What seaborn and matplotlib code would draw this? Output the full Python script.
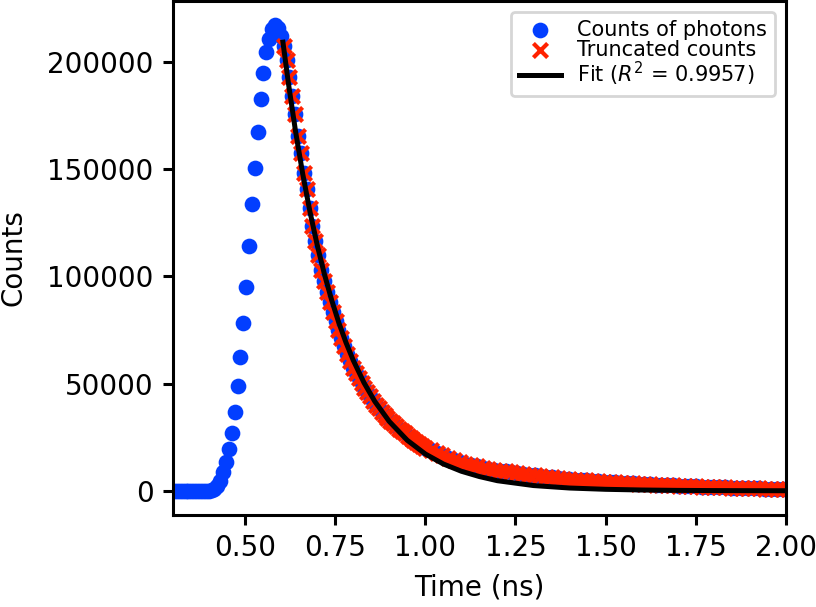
import pandas as pd
import seaborn as sns
import matplotlib.pyplot as plt

# Rising edge and peak of the histogram (time in ns, 8 ps bins)
time_rise = [0.295, 0.303, 0.311, 0.319, 0.327, 0.335, 0.343, 0.351, 0.359, 0.367,
             0.375, 0.383, 0.391, 0.399, 0.407, 0.415, 0.423, 0.431, 0.439, 0.447,
             0.455, 0.463, 0.471, 0.479, 0.487, 0.495, 0.503, 0.511, 0.519, 0.527,
             0.535, 0.543, 0.551, 0.559, 0.567, 0.575, 0.583, 0.591, 0.599]
counts_rise = [40, 30, 50, 40, 60, 50, 70, 80, 100, 120,
               150, 190, 260, 380, 600, 1100, 2400, 5000, 9000, 13900,
               19600, 27300, 36800, 49000, 62400, 78200, 95200, 114100, 133600, 150600,
               167200, 182700, 194600, 204300, 210600, 215300, 217200, 215800, 212100]

# Decay used for the fit (truncated counts), fine part
time_decay = [0.607, 0.615, 0.623, 0.631, 0.639, 0.647, 0.655, 0.663, 0.671, 0.679,
              0.687, 0.695, 0.703, 0.711, 0.719, 0.727, 0.735, 0.743, 0.751, 0.759,
              0.767, 0.775, 0.783, 0.791, 0.799, 0.807, 0.815, 0.823, 0.831, 0.839,
              0.847, 0.855, 0.863, 0.871, 0.879, 0.887, 0.895, 0.903, 0.911, 0.919,
              0.927, 0.935, 0.943, 0.951, 0.959, 0.967, 0.975, 0.983, 0.991, 0.999]
counts_decay = [207000, 200500, 193000, 183800, 175400, 165200, 157400, 148100, 140700, 132000,
                123400, 116500, 109900, 103200, 97880, 92830, 88040, 83500, 79190, 75100,
                71230, 67550, 64070, 60760, 57630, 55130, 52750, 50460, 48280, 46190,
                44190, 42270, 40440, 38690, 37180, 35720, 34320, 32980, 31680, 30440,
                29250, 28100, 27000, 25940, 24920, 23950, 23010, 22100, 21240, 20410]

# Long tail
time_tail = [1.015, 1.031, 1.047, 1.063, 1.079, 1.095, 1.111, 1.127, 1.143, 1.159,
             1.175, 1.191, 1.207, 1.223, 1.239, 1.255, 1.271, 1.287, 1.303, 1.319,
             1.335, 1.351, 1.367, 1.383, 1.399, 1.415, 1.431, 1.447, 1.463, 1.479,
             1.495, 1.511, 1.527, 1.543, 1.559, 1.575, 1.591, 1.607, 1.623, 1.639,
             1.655, 1.671, 1.687, 1.703, 1.719, 1.735, 1.751, 1.767, 1.783, 1.799,
             1.815, 1.831, 1.847, 1.863, 1.879, 1.895, 1.911, 1.927, 1.943, 1.959,
             1.975, 1.991, 2.007]
counts_tail = [19100, 17880, 16750, 15680, 14680, 13740, 12870, 12160, 11630, 11130,
               10640, 10180, 9740, 9310, 8910, 8520, 8150, 7810, 7480, 7160,
               6860, 6570, 6290, 6020, 5770, 5550, 5330, 5130, 4940, 4750,
               4570, 4400, 4230, 4070, 3910, 3760, 3610, 3470, 3330, 3200,
               3080, 2950, 2840, 2730, 2620, 2510, 2390, 2280, 2170, 2070,
               1970, 1880, 1790, 1700, 1620, 1550, 1470, 1400, 1340, 1270,
               1210, 1150, 1100]

# Fitted curve
fit_time = [0.605, 0.62, 0.64, 0.66, 0.68, 0.70, 0.72, 0.74, 0.76, 0.78,
            0.80, 0.83, 0.86, 0.90, 0.95, 1.00, 1.05, 1.10, 1.15, 1.20,
            1.30, 1.40, 1.50, 1.60, 1.70, 1.80, 1.90, 2.01]
fit_counts = [209000, 190100, 167500, 147600, 130100, 114700, 101100, 89100, 78500, 69250,
              61050, 50550, 41850, 32560, 23800, 17430, 12780, 9400, 6930, 5000,
              2750, 1600, 1000, 680, 500, 410, 360, 330]

time_ticks = [0.50, 0.75, 1.00, 1.25, 1.50, 1.75, 2.00]

photons = pd.DataFrame({
    'time': time_rise + time_decay + time_tail,
    'counts': counts_rise + counts_decay + counts_tail,
})
truncated = photons[photons['time'] >= 0.605]

plt.rcParams['axes.linewidth'] = 1.1
plt.rcParams['xtick.major.width'] = 1.1
plt.rcParams['ytick.major.width'] = 1.1

fig, ax = plt.subplots(figsize=(4.08, 3.035), dpi=200)
sns.scatterplot(data=photons, x='time', y='counts', color='#023eff', s=32,
                linewidth=0, label='Counts of photons', ax=ax)
sns.scatterplot(data=truncated, x='time', y='counts', marker='x', color='#ff2200',
                s=26, linewidth=1.5, label='Truncated counts', ax=ax)
sns.lineplot(x=fit_time, y=fit_counts, color='black', linewidth=1.8,
             label=r'Fit ($R^2$ = 0.9957)', ax=ax)

ax.set_xlim(0.3, 2.0)
ax.set_xticks(time_ticks)
ax.set_xlabel('Time (ns)')
ax.set_ylabel('Counts', labelpad=7)
ax.legend(loc='upper right', fontsize=7.5, labelspacing=0.0)

fig.subplots_adjust(left=0.212, right=0.963, bottom=0.152, top=0.998)
fig.savefig('out.png', dpi=200)
